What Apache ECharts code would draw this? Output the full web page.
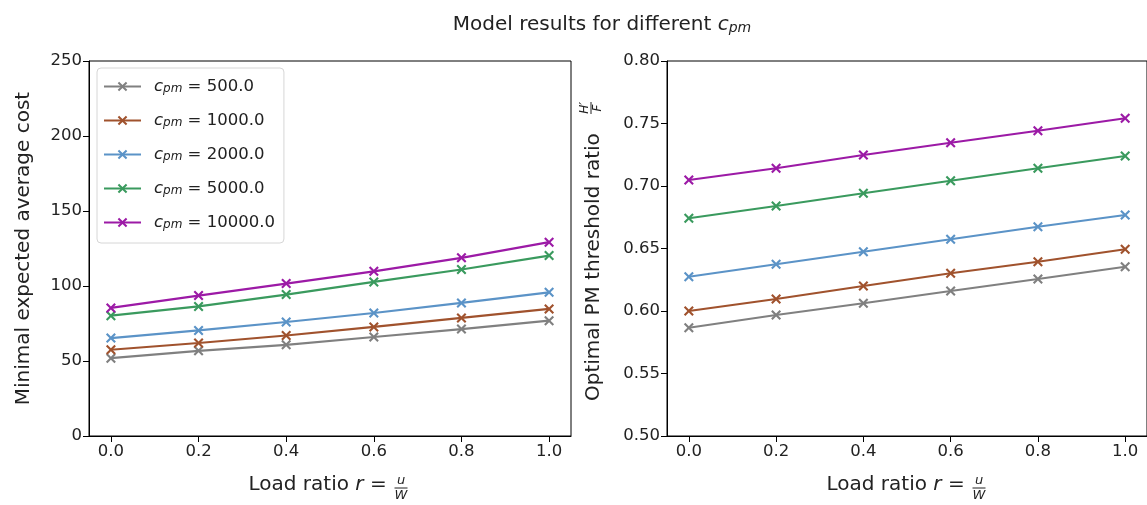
<!DOCTYPE html>
<html>
<head>
<meta charset="utf-8">
<script src="https://cdn.jsdelivr.net/npm/echarts@6/dist/echarts.min.js"></script>
<style>
  html, body { margin: 0; padding: 0; background: #fff; }
  #chart { width: 1147px; height: 505px; }
</style>
</head>
<body>
<div id="chart"></div>
<script>
// 数据
const xs = [0, 0.2, 0.4, 0.6, 0.8, 1.0];
const xTicks = [0, 0.2, 0.4, 0.6, 0.8, 1.0];
const cpmValues = [500, 1000, 2000, 5000, 10000];
const costGray = [51.9, 56.8, 60.8, 66.0, 71.3, 76.9];
const costBrown = [57.5, 62.0, 67.0, 72.7, 78.7, 84.7];
const costBlue = [65.3, 70.4, 76.0, 82.0, 88.7, 95.8];
const costGreen = [80.2, 86.4, 94.3, 102.7, 111.0, 120.3];
const costPurple = [85.4, 93.6, 101.6, 109.8, 118.8, 129.2];
const ratioGray = [0.5866, 0.5968, 0.6062, 0.6160, 0.6256, 0.6354];
const ratioBrown = [0.6000, 0.6096, 0.6200, 0.6302, 0.6394, 0.6494];
const ratioBlue = [0.6274, 0.6374, 0.6474, 0.6574, 0.6674, 0.6768];
const ratioGreen = [0.6742, 0.6840, 0.6942, 0.7042, 0.7142, 0.7240];
const ratioPurple = [0.7048, 0.7142, 0.7248, 0.7346, 0.7442, 0.7542];

const costSeries = [costGray, costBrown, costBlue, costGreen, costPurple];
const ratioSeries = [ratioGray, ratioBrown, ratioBlue, ratioGreen, ratioPurple];
const colors = ['#808080', '#a0522d', '#5b93c7', '#3a9a5e', '#9c1aa6'];

const FONT = "'DejaVu Sans', sans-serif";
const TEXT = '#222';
const xMark = 'path://M0,1.5L1.5,0L5,3.5L8.5,0L10,1.5L6.5,5L10,8.5L8.5,10L5,6.5L1.5,10L0,8.5L3.5,5Z';

// 网格位置
const gridTop = 61, gridH = 375, gridW = 482;
const leftG = 89, rightG = 667;

const seriesName = v => 'cpm' + v;
const nameOf = {};
cpmValues.forEach(v => { nameOf[seriesName(v)] = v.toFixed(1); });

// 下标：居中对齐再用上边距往下压一点
const mathRich = (size, drop) => {
  const sub = Math.round(size * 0.7);
  return {
    n: { fontSize: size, fontFamily: FONT, color: TEXT, lineHeight: size + 4 },
    i: { fontSize: size, fontFamily: FONT, fontStyle: 'italic', color: TEXT, lineHeight: size + 4 },
    s: { fontSize: sub, fontFamily: FONT, fontStyle: 'italic', color: TEXT,
         verticalAlign: 'middle', padding: [drop, 0, 0, 0] }
  };
};

function makeXAxis(gridIndex) {
  return {
    type: 'value', gridIndex, min: -0.05, max: 1.05,
    axisLine: { show: true, onZero: false, lineStyle: { color: '#000', width: 1 } },
    axisTick: { show: true, length: 6, customValues: xTicks, lineStyle: { color: '#000' } },
    axisLabel: { customValues: xTicks, formatter: v => v.toFixed(1), fontSize: 16.5,
                 fontFamily: FONT, color: TEXT, margin: 7 },
    splitLine: { show: false }
  };
}

function makeYAxis(gridIndex, min, max, interval, digits) {
  return {
    type: 'value', gridIndex, min, max, interval,
    axisLine: { show: true, onZero: false, lineStyle: { color: '#000', width: 1 } },
    axisTick: { show: true, length: 6, lineStyle: { color: '#000' } },
    axisLabel: { formatter: v => v.toFixed(digits), fontSize: 16.5, fontFamily: FONT,
                 color: TEXT, margin: 7 },
    splitLine: { show: false }
  };
}

function lineSeries(vals, idx, axisIdx) {
  return {
    type: 'line', name: seriesName(cpmValues[idx]),
    xAxisIndex: axisIdx, yAxisIndex: axisIdx,
    data: xs.map((x, k) => [x, vals[k]]),
    symbol: xMark, symbolSize: 10,
    lineStyle: { color: colors[idx], width: 2.2 },
    itemStyle: { color: colors[idx] },
    emphasis: { disabled: true },
    z: 3 + idx
  };
}

// 分数（用图形元素叠放）
function fraction(x, y, top, bottom, size, rotation) {
  return {
    type: 'group', x, y, rotation: rotation || 0,
    children: [
      { type: 'text', style: { x: 0, y: -size * 0.55, text: top, fontSize: size, fontFamily: FONT,
          fontStyle: 'italic', fill: TEXT, align: 'center', verticalAlign: 'middle',
          textAlign: 'center', textVerticalAlign: 'middle' } },
      { type: 'line', shape: { x1: -size * 0.5, y1: 0, x2: size * 0.5, y2: 0 },
        style: { stroke: TEXT, lineWidth: 1 } },
      { type: 'text', style: { x: 0, y: size * 0.6, text: bottom, fontSize: size, fontFamily: FONT,
          fontStyle: 'italic', fill: TEXT, align: 'center', verticalAlign: 'middle',
          textAlign: 'center', textVerticalAlign: 'middle' } }
    ]
  };
}

function xName(center) {
  return [
    { type: 'text', x: center + 63, y: 485,
      style: { text: 'Load ratio {i|r} = ', fontSize: 20, fontFamily: FONT, fill: TEXT,
        rich: mathRich(20, 6), align: 'right', verticalAlign: 'middle',
        textAlign: 'right', textVerticalAlign: 'middle' } },
    fraction(center + 71, 488, 'u', 'W', 13)
  ];
}

const leftCenter = leftG + gridW / 2;
const rightCenter = rightG + gridW / 2;

const chart = echarts.init(document.getElementById('chart'), null, { renderer: 'canvas' });

chart.setOption({
  animation: false,
  backgroundColor: '#fff',
  grid: [
    { left: leftG, top: gridTop, width: gridW, height: gridH, show: true,
      borderColor: '#000', borderWidth: 1, backgroundColor: 'transparent' },
    { left: rightG, top: gridTop, width: gridW, height: gridH, show: true,
      borderColor: '#000', borderWidth: 1, backgroundColor: 'transparent' }
  ],
  xAxis: [makeXAxis(0), makeXAxis(1)],
  yAxis: [makeYAxis(0, 0, 250, 50, 0), makeYAxis(1, 0.5, 0.8, 0.05, 2)],
  legend: {
    data: cpmValues.map(seriesName),
    orient: 'vertical', left: 97, top: 68,
    padding: [10, 9, 12, 6],
    itemWidth: 37, itemHeight: 12, itemGap: 17,
    backgroundColor: '#fff', borderColor: '#d6d6d6', borderWidth: 1, borderRadius: 4,
    formatter: name => '{i|c}{s|pm}{n| = ' + nameOf[name] + '}',
    textStyle: {
      rich: Object.assign(mathRich(16.5, 5), {
        i: { fontSize: 16.5, fontFamily: FONT, fontStyle: 'italic', color: TEXT,
             lineHeight: 20, padding: [0, 0, 0, 8] },
        n: { fontSize: 16.5, fontFamily: FONT, color: TEXT, lineHeight: 20 }
      })
    },
    selectedMode: false
  },
  series: [
    ...costSeries.map((vals, i) => lineSeries(vals, i, 0)),
    ...ratioSeries.map((vals, i) => lineSeries(vals, i, 1))
  ],
  graphic: [
    { type: 'text', x: 602, y: 25,
      style: { text: 'Model results for different {i|c}{s|pm}', fontSize: 20, fontFamily: FONT,
        fill: TEXT, rich: mathRich(20, 6), align: 'center', verticalAlign: 'middle',
        textAlign: 'center', textVerticalAlign: 'middle' } },
    { type: 'text', x: 24, y: gridTop + gridH / 2, rotation: Math.PI / 2,
      style: { text: 'Minimal expected average cost', fontSize: 20, fontFamily: FONT, fill: TEXT,
        align: 'center', verticalAlign: 'middle', textAlign: 'center', textVerticalAlign: 'middle' } },
    { type: 'text', x: 594, y: 401, rotation: Math.PI / 2,
      style: { text: 'Optimal PM threshold ratio', fontSize: 20, fontFamily: FONT, fill: TEXT,
        align: 'left', verticalAlign: 'middle', textAlign: 'left', textVerticalAlign: 'middle' } },
    fraction(591, 108, 'H\u2032', 'F', 12, Math.PI / 2),
    ...xName(leftCenter),
    ...xName(rightCenter)
  ]
});

window.addEventListener('resize', () => chart.resize());
</script>
</body>
</html>
